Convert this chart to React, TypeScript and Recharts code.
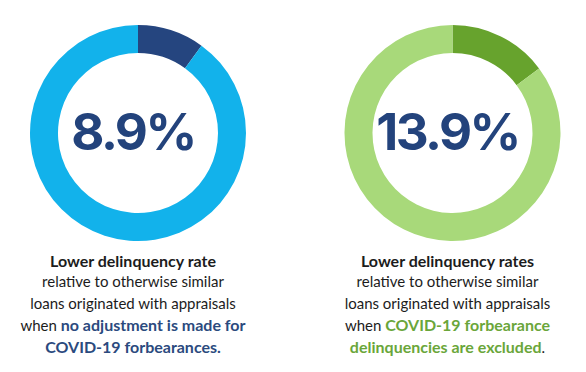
import { PieChart, Pie, Cell, Label } from "recharts";

// share of each ring drawn in the darker colour
const highlightShares = [10, 14.8];
const rateLabels = ["8.9%", "13.9%"];
const ringColors = [
  ["#25457f", "#12b2eb"],
  ["#67a32d", "#a8d97a"],
];
const centersX = [133, 447.5];

const headings = ["Lower delinquency rate", "Lower delinquency rates"];
const bodyLines = ["relative to otherwise similar", "loans originated with appraisals"];

const W = 586;
const H = 372;
const CY = 128;

function ringData(share: number) {
  return [
    { name: "lower", value: share },
    { name: "rest", value: 100 - share },
  ];
}

function CenterText({ px, py, text }: any) {
  return (
    <text
      x={px}
      y={py + 22}
      textAnchor="middle"
      fill="#23437c"
      fontFamily="Inter"
      fontWeight={700}
      fontSize={51}
      letterSpacing={-2.5}
    >
      {text}
    </text>
  );
}

const bodyStyle: React.CSSProperties = {
  position: "absolute",
  top: 250,
  width: 300,
  textAlign: "center",
  fontFamily: "Lato",
  fontSize: 15,
  lineHeight: "21.25px",
  color: "#1c1c1c",
};

const strong = (color: string): React.CSSProperties => ({ color, fontWeight: 700, fontSize: 16 });

export default function App() {
  return (
    <div style={{ position: "absolute", left: 0, top: 0, width: W, height: H, background: "#fff" }}>
      <PieChart width={W} height={H}>
        {highlightShares.map((share, i) => (
          <Pie
            key={i}
            data={ringData(share)}
            dataKey="value"
            cx={centersX[i]}
            cy={CY}
            innerRadius={80}
            outerRadius={108}
            startAngle={90}
            endAngle={-270}
            stroke="none"
            isAnimationActive={false}
          >
            {ringColors[i].map((c) => (
              <Cell key={c} fill={c} />
            ))}
            <Label
              position="center"
              content={<CenterText px={centersX[i]} py={CY} text={rateLabels[i]} />}
            />
          </Pie>
        ))}
      </PieChart>

      <div style={{ ...bodyStyle, left: centersX[0] - 150 }}>
        <div style={strong("#1c1c1c")}>{headings[0]}</div>
        <div>{bodyLines[0]}</div>
        <div>{bodyLines[1]}</div>
        <div>
          when <span style={strong("#2b4a7e")}>no adjustment is made for</span>
        </div>
        <div>
          <span style={strong("#2b4a7e")}>COVID-19 forbearances.</span>
        </div>
      </div>

      <div style={{ ...bodyStyle, left: centersX[1] - 150 }}>
        <div style={strong("#1c1c1c")}>{headings[1]}</div>
        <div>{bodyLines[0]}</div>
        <div>{bodyLines[1]}</div>
        <div>
          when <span style={strong("#6aa63a")}>COVID-19 forbearance</span>
        </div>
        <div>
          <span style={strong("#6aa63a")}>delinquencies are excluded</span>.
        </div>
      </div>
    </div>
  );
}
